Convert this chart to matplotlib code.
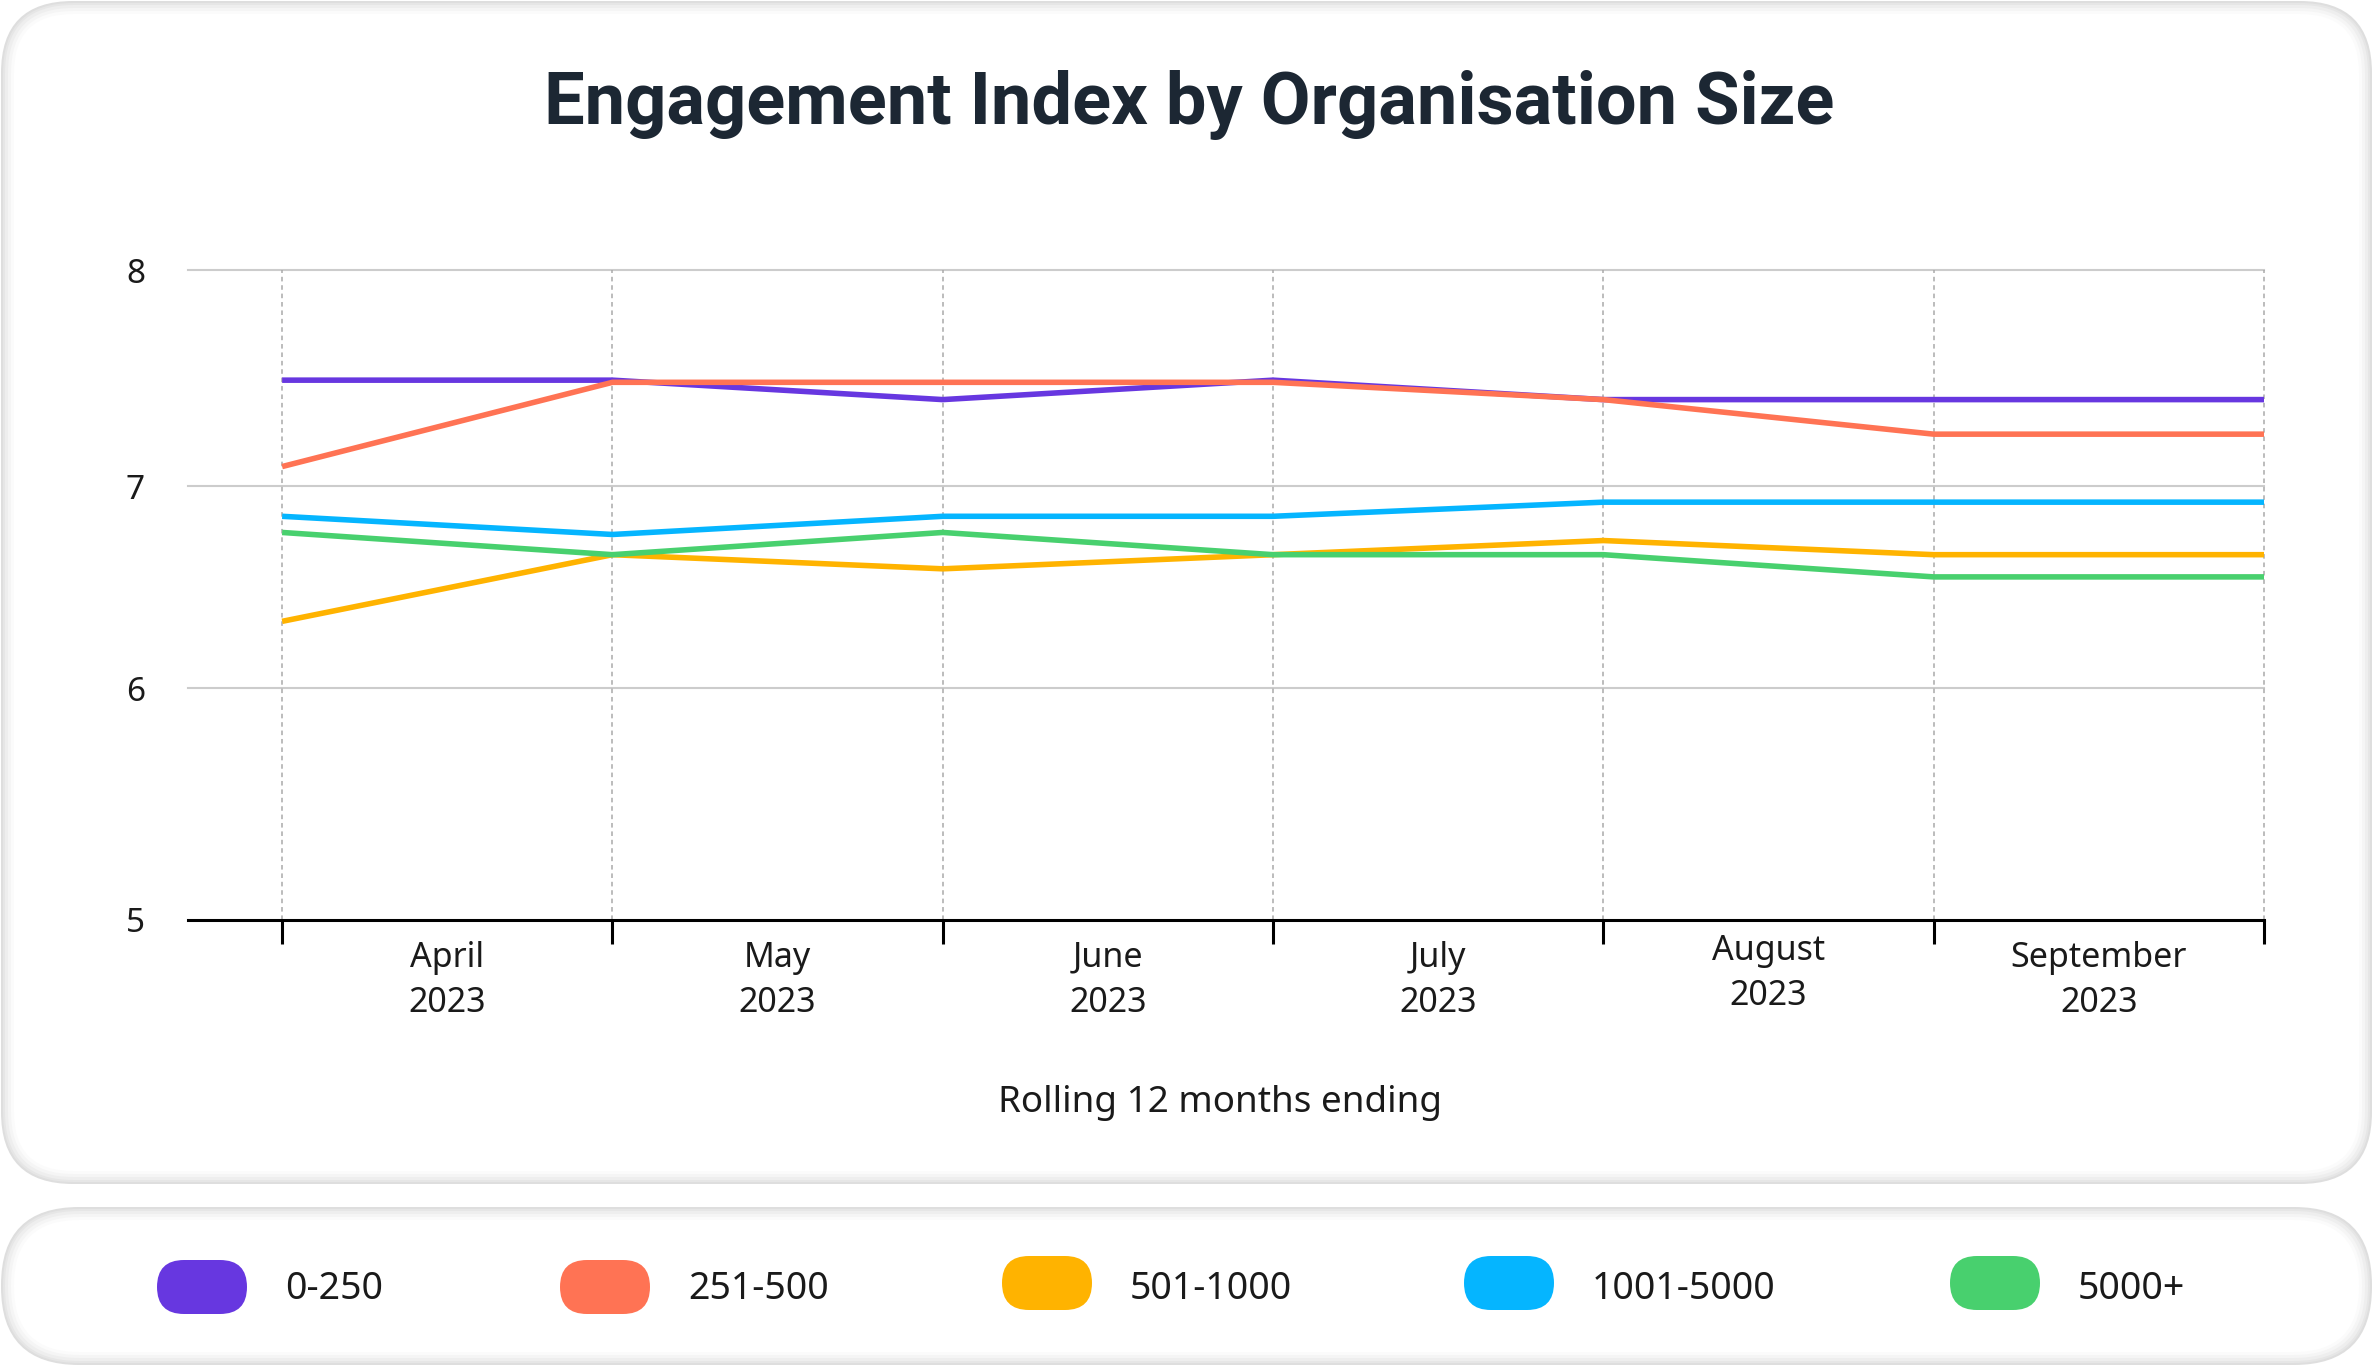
import numpy as np
import matplotlib.pyplot as plt
from matplotlib.patches import FancyBboxPatch
from matplotlib.transforms import ScaledTranslation

# data (rolling 12 months ending ...)
months = ["April\n2023", "May\n2023", "June\n2023", "July\n2023", "August\n2023", "September\n2023"]
groups = ["0-250", "251-500", "501-1000", "1001-5000", "5000+"]
colors = ["#6737E0", "#FF7354", "#FFB300", "#05B5FF", "#48D06E"]

size_0_250 = [7.49, 7.49, 7.40, 7.49, 7.40, 7.40, 7.40]
size_251_500 = [7.09, 7.48, 7.48, 7.48, 7.40, 7.24, 7.24]
size_501_1000 = [6.33, 6.66, 6.59, 6.66, 6.73, 6.66, 6.66]
size_1001_5000 = [6.85, 6.76, 6.85, 6.85, 6.92, 6.92, 6.92]
size_5000_plus = [6.77, 6.66, 6.77, 6.66, 6.66, 6.55, 6.55]
series = [size_0_250, size_251_500, size_501_1000, size_1001_5000, size_5000_plus]

y_ticks = [5, 6, 7, 8]
# the source axis is not evenly spaced between its ticks
y_tick_pos = [0, 232, 434, 650]

W, H = 2374, 1366
TXT = "Noto Sans"
fig = plt.figure(figsize=(W / 100, H / 100), dpi=100)
fig.patch.set_facecolor("white")

# background layer in pixel coords: cards, title, legend
bg = fig.add_axes([0, 0, 1, 1], zorder=0)
bg.set_xlim(0, W)
bg.set_ylim(H, 0)
bg.axis("off")


def card(x0, y0, x1, y1, r):
    layers = [(0, "#dedede"), (2, "#e6e6e6"), (4, "#eeeeee"), (7, "#f5f5f5"), (10, "#fbfbfb"), (13, "#ffffff")]
    for inset, c in layers:
        bg.add_patch(FancyBboxPatch((x0 + inset, y0 + inset), x1 - x0 - 2 * inset, y1 - y0 - 2 * inset,
                                    boxstyle=f"round,pad=0,rounding_size={r - inset}",
                                    fc=c, ec="none"))


card(1, 1, W - 2, 1184, 72)
card(1, 1207, W - 2, H - 1, 78)

bg.text(1189, 124, "Engagement Index by Organisation Size", ha="center", va="baseline",
        fontsize=52, fontweight="bold", color="#1c2733", family="Roboto")
bg.text(1220, 1112, "Rolling 12 months ending", ha="center", va="baseline",
        fontsize=26.5, color="#1a1a1a", family=TXT)

# legend
legend_x = [202, 605, 1047, 1509, 1995]
legend_y = [1287, 1287, 1283, 1283, 1283]
for name, c, lx, ly in zip(groups, colors, legend_x, legend_y):
    bg.add_patch(FancyBboxPatch((lx - 45, ly - 27), 90, 54,
                                boxstyle="round,pad=0,rounding_size=27", fc=c, ec="none"))
    bg.text(lx + 83, 1289, name, ha="left", va="center", fontsize=27,
            color="#1a1a1a", family=TXT)

# chart
ax = fig.add_axes([188 / W, 1 - 920 / H, (2264 - 188) / W, (920 - 270) / H], zorder=1)
ax.patch.set_alpha(0)

fwd = lambda v: np.interp(v, y_ticks, y_tick_pos)
inv = lambda t: np.interp(t, y_tick_pos, y_ticks)
ax.set_yscale("function", functions=(fwd, inv))

x = np.arange(len(size_0_250))
for vals, c in zip(series, colors):
    ax.plot(x, vals, color=c, lw=4.0, solid_capstyle="butt", clip_on=False, zorder=3)

ax.set_xlim(-0.285, 6.0)
ax.set_ylim(5, 8)

for v in y_ticks[1:]:
    ax.axhline(v, color="#cccccc", lw=1.5, zorder=1, clip_on=False)
for xi in x:
    ax.axvline(xi, color="#aaaaaa", lw=1.1, ls=(0, (3, 2.5)), zorder=1, clip_on=False)

for s in ["top", "right", "left"]:
    ax.spines[s].set_visible(False)
ax.spines["bottom"].set_color("black")
ax.spines["bottom"].set_linewidth(2.2)

ax.set_yticks(y_ticks)
ax.set_yticklabels([str(v) for v in y_ticks])
ax.tick_params(axis="y", length=0, pad=31, labelsize=24, labelcolor="#1a1a1a")
for lab in ax.get_yticklabels():
    lab.set_family(TXT)

ax.set_xticks(x)
ax.set_xticklabels([])
ax.set_xticks(x[:-1] + 0.5, minor=True)
ax.set_xticklabels(months, minor=True, fontsize=24.5, color="#1a1a1a",
                   family=TXT, linespacing=1.42)
ax.tick_params(axis="x", which="major", length=17, width=2.2, color="black", direction="out")
ax.tick_params(axis="x", which="minor", length=0, pad=15)

# August label sits a little higher in the source
aug = ax.get_xticklabels(minor=True)[4]
aug.set_transform(aug.get_transform() + ScaledTranslation(0, 7 / 100, fig.dpi_scale_trans))

fig.savefig("out.png", dpi=100, facecolor="white")
